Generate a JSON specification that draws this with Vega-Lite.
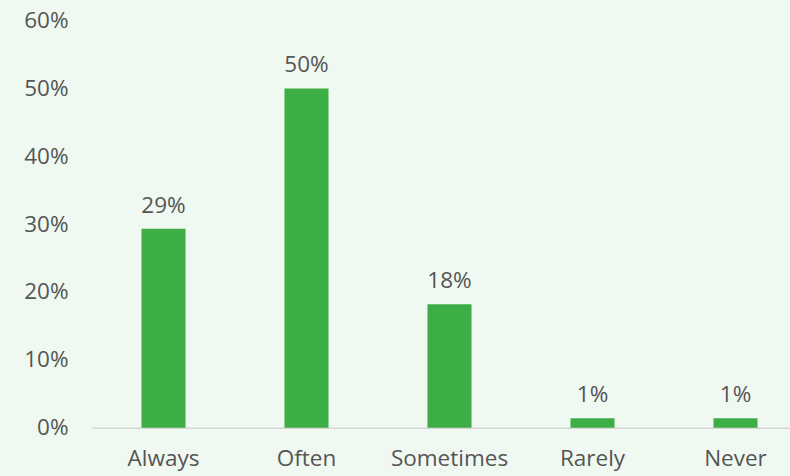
{
  "$schema": "https://vega.github.io/schema/vega-lite/v6.json",
  "autosize": {"type": "none"},
  "width": 698,
  "height": 407.3,
  "padding": {"left": 92, "top": 20.4, "right": 0, "bottom": 48.3},
  "background": "#f0f9f1",
  "config": {
    "view": {"stroke": null},
    "font": "Open Sans"
  },
  "data": {
    "values": [
      {"category": "Always", "value": 0.293, "label": "29%"},
      {"category": "Often", "value": 0.4998, "label": "50%"},
      {"category": "Sometimes", "value": 0.182, "label": "18%"},
      {"category": "Rarely", "value": 0.014, "label": "1%"},
      {"category": "Never", "value": 0.014, "label": "1%"}
    ]
  },
  "encoding": {
    "x": {
      "field": "category",
      "type": "nominal",
      "sort": null,
      "scale": {"paddingInner": 0.692, "paddingOuter": 0.346, "range": [0, 715]},
      "axis": {
        "title": null,
        "labelAngle": 0,
        "ticks": false,
        "domainColor": "#d6d6d6",
        "domainWidth": 1.5,
        "labelFont": "Open Sans",
        "labelFontSize": 22.5,
        "labelColor": "#555555",
        "labelPadding": 20
      }
    },
    "y": {
      "field": "value",
      "type": "quantitative",
      "scale": {"domain": [0, 0.6], "nice": false},
      "axis": {
        "title": null,
        "format": ".0%",
        "values": [0, 0.1, 0.2, 0.3, 0.4, 0.5, 0.6],
        "ticks": false,
        "domain": false,
        "grid": false,
        "labelFont": "Open Sans",
        "labelFontSize": 22.5,
        "labelColor": "#555555",
        "labelPadding": 24
      }
    }
  },
  "layer": [
    {"mark": {"type": "bar", "color": "#3dae46"}},
    {
      "mark": {"type": "text", "dy": -16, "baseline": "alphabetic", "font": "Open Sans", "fontSize": 22.5, "color": "#555555"},
      "encoding": {"text": {"field": "label"}}
    }
  ]
}
